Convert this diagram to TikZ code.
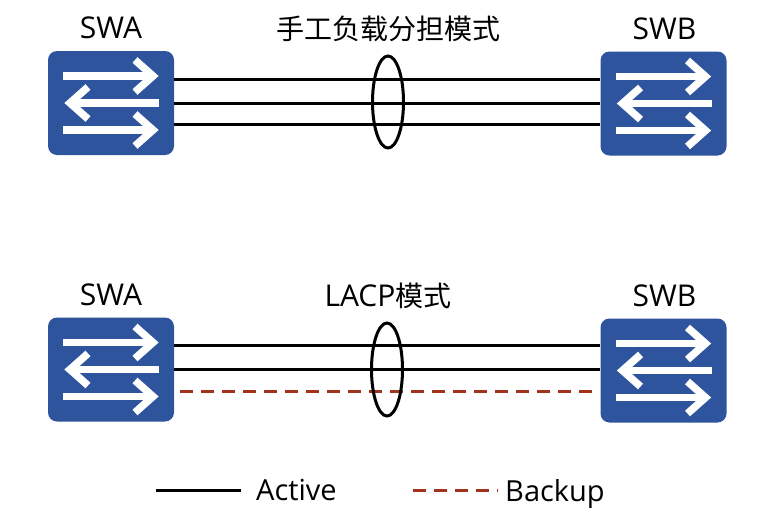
\documentclass[tikz,border=0pt]{standalone}
\usepackage{fontspec}
\setmainfont{Open Sans}
\newfontfamily\cjkfont{Noto Sans CJK SC}
\definecolor{swblue}{RGB}{47,84,158}
\definecolor{backupred}{RGB}{160,50,30}
\tikzset{
  x=1pt,y=-1pt,
  swbox/.style={fill=swblue,rounded corners=9pt,minimum width=126pt,minimum height=104pt,inner sep=0pt,draw=none},
  swarrow/.style={draw=white,line width=7.5pt},
  link/.style={draw=black,line width=3pt},
  backuplink/.style={draw=backupred,line width=3pt,dash pattern=on 12.5pt off 8.5pt},
  bundle/.style={draw=black,line width=3pt,ellipse,inner sep=0pt},
  lbl/.style={font=\fontsize{30}{32}\selectfont,inner sep=0pt,text=black},
  cjklbl/.style={font=\fontsize{28}{32}\selectfont,inner sep=0pt,text=black},
  legendlbl/.style={font=\fontsize{29}{32}\selectfont,inner sep=0pt,text=black,anchor=base west},
  pics/switchicon/.style={code={
    \draw[swarrow] (-48,-27) -- (42,-27);
    \draw[swarrow,miter limit=10] (24,-43) -- (42,-27) -- (24,-11);
    \draw[swarrow] (48,0) -- (-41,0);
    \draw[swarrow,miter limit=10] (-23,-16) -- (-41,0) -- (-23,16);
    \draw[swarrow] (-48,27) -- (42,27);
    \draw[swarrow,miter limit=10] (24,11) -- (42,27) -- (24,43);
  }}
}
\usetikzlibrary{shapes.geometric}
\begin{document}
\begin{tikzpicture}
\useasboundingbox (0,0) rectangle (770,522);
\fill[white] (0,0) rectangle (770,522);
% switches
\node[swbox] (swaT) at (111,103) {};
\node[swbox] (swbT) at (663.5,103.5) {};
\node[swbox] (swaB) at (111,369.5) {};
\node[swbox] (swbB) at (663.5,370.5) {};
\pic at (swaT.center) {switchicon};
\pic at (swbT.center) {switchicon};
\pic at (swaB.center) {switchicon};
\pic at (swbB.center) {switchicon};
% labels
\node[lbl] (la) at (111,28) {SWA};
\node[lbl] (lb) at (664.5,29) {SWB};
\node[lbl] (lc) at (111,295) {SWA};
\node[lbl] (ld) at (664.5,296) {SWB};
\node[cjklbl] (t1) at (388,29) {\cjkfont 手工负载分担模式};
\node[lbl] (t2) at (388,296) {LACP{\cjkfont\fontsize{28}{32}\selectfont 模式}};
% top links
\draw[link] ([yshift=24pt]swaT.east) -- ([yshift=24.5pt]swbT.west);
\draw[link] (swaT.east) -- ([yshift=.5pt]swbT.west);
\draw[link] ([yshift=-21pt]swaT.east) -- ([yshift=-20.5pt]swbT.west);
% bottom links
\draw[link] ([yshift=24pt]swaB.east) -- ([yshift=25pt]swbB.west);
\draw[link] (swaB.east) -- ([yshift=1pt]swbB.west);
\draw[backuplink] ([xshift=6pt,yshift=-21.5pt]swaB.east) -- ([xshift=-8pt,yshift=-20.5pt]swbB.west);
% bundles
\node[bundle,minimum width=31pt,minimum height=92pt] (e1) at (388,102) {};
\node[bundle,minimum width=31pt,minimum height=93pt] (e2) at (387,369.5) {};
% legend
\coordinate (la1) at (156,490);
\coordinate (la2) at (241,490);
\coordinate (lb1) at (413,490);
\coordinate (lb2) at (498,490);
\draw[link] (la1) -- (la2);
\draw[backuplink] (lb1) -- (lb2);
\node[legendlbl] (active) at (256,500) {Active};
\node[legendlbl] (backup) at (505,501) {Backup};
\end{tikzpicture}
\end{document}
